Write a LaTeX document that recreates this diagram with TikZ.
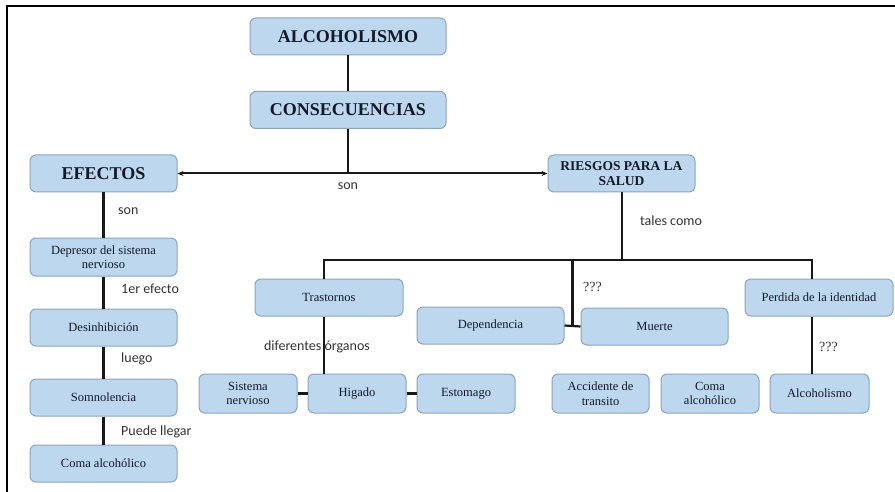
\documentclass[tikz,border=0pt]{standalone}
\usepackage{fontspec}
\setmainfont{Liberation Serif}
\newfontfamily\lblfont{Carlito}
\usepackage{xcolor}
\usetikzlibrary{arrows.meta, positioning, calc}
\definecolor{boxfill}{RGB}{189,215,238}
\definecolor{boxline}{RGB}{140,165,190}
\definecolor{boxtext}{RGB}{20,25,40}

\begin{document}
\begin{tikzpicture}[
        x=1pt, y=-1pt,
        mapbox/.style={rectangle, rounded corners=6pt, draw=boxline, fill=boxfill, line width=1pt, inner sep=0pt, align=center, text=boxtext},
        bigbox/.style={mapbox, minimum width=196pt, minimum height=37pt, font=\fontsize{18}{19}\selectfont\bfseries},
        midbox/.style={mapbox, minimum width=147pt, minimum height=37pt, font=\fontsize{12.5}{14.5}\selectfont},
        smallbox/.style={mapbox, minimum width=98pt, minimum height=39pt, font=\fontsize{12.5}{14.5}\selectfont},
        linkstyle/.style={line width=2.2pt, color=black!90},
        arrowstyle/.style={-{Stealth[length=6pt, width=5pt]}, line width=2pt, color=black!90},
        lbl/.style={font=\lblfont\fontsize{14}{16}\selectfont, text=black!80, inner sep=1pt},
        qlbl/.style={font=\fontsize{14}{16}\selectfont, text=black!80, inner sep=1pt}
    ]
        \useasboundingbox (0,0) rectangle (895,492);
        % Frame
        \draw[line width=2.2pt] (7,492) -- (7,6) -- (895,6);

        % Top
        \node[bigbox] (alc) at (348, 36.5) {ALCOHOLISMO};
        \node[bigbox] (cons) at (348, 110) {CONSECUENCIAS};
        \node[bigbox, minimum width=147pt] (efec) at (103.5, 173.5) {EFECTOS};
        \node[midbox, font=\fontsize{13.5}{15.5}\selectfont\bfseries] (ries) at (621.5, 173.5) {RIESGOS PARA LA\\SALUD};

        % Left column
        \node[midbox, minimum height=38pt] (depr) at (103.5, 257) {Depresor del sistema\\nervioso};
        \node[midbox] (desi) at (103.5, 327.5) {Desinhibición};
        \node[midbox] (somn) at (103.5, 397.5) {Somnolencia};
        \node[midbox] (comaA) at (103.5, 463.5) {Coma alcohólico};

        % Risks
        \node[midbox, minimum width=148pt] (tras) at (329, 297.5) {Trastornos};
        \node[midbox] (depen) at (490.5, 325.5) {Dependencia};
        \node[midbox] (muer) at (654.5, 326.5) {Muerte};
        \node[midbox, minimum width=148pt] (perd) at (819, 297.5) {Perdida de la identidad};

        % Bottom row
        \node[smallbox] (sist) at (248, 393.5) {Sistema\\nervioso};
        \node[smallbox] (hig) at (357, 393.5) {Higado};
        \node[smallbox] (esto) at (466, 393.5) {Estomago};
        \node[smallbox, minimum width=97pt] (acc) at (600.5, 393.5) {Accidente de\\transito};
        \node[smallbox] (comaB) at (710, 393.5) {Coma\\alcohólico};
        \node[smallbox, minimum width=99pt] (alcb) at (819.5, 393.5) {Alcoholismo};

        % Main flow
        \draw[linkstyle] (alc) -- (cons);
        \coordinate (split) at (348, 173.5);
        \draw[linkstyle] (cons.south) -- (split);
        \draw[arrowstyle] (split) -- (efec.east);
        \draw[arrowstyle] (split) -- (ries.west);
        \node[lbl] (sonA) at (348, 186) {son};

        % Effects chain
        \draw[linkstyle] (efec) -- (depr);
        \draw[linkstyle] (depr) -- (desi);
        \draw[linkstyle] (desi) -- (somn);
        \draw[linkstyle] (somn) -- (comaA);
        \node[lbl, anchor=west] (sonB) at (117, 211) {son};
        \node[lbl, anchor=west] (primer) at (120, 289) {1er efecto};
        \node[lbl, anchor=west] (luego) at (120, 359) {luego};
        \node[lbl, anchor=west] (puede) at (120, 432) {Puede llegar};

        % Risks tree
        \coordinate (bus) at (622, 260);
        \coordinate (busL) at (324, 260);
        \coordinate (busR) at (812, 260);
        \draw[linkstyle] (ries.south -| bus) -- (bus);
        \draw[linkstyle] (busL |- tras.north) -- (busL) -- (busR) -- (busR |- perd.north);
        \node[lbl, anchor=west] (tales) at (639, 221) {tales como};

        \coordinate (mid) at ($(depen.east)!0.5!(muer.west)$);
        \draw[linkstyle] (depen.east) -- (muer.west);
        \draw[linkstyle] (mid |- bus) -- (mid);
        \node[qlbl, anchor=west] (qA) at (582, 287) {???};

        \draw[linkstyle] (busL |- tras.south) -- (busL |- hig.north);
        \draw[linkstyle] (sist) -- (hig);
        \draw[linkstyle] (hig) -- (esto);
        \node[lbl] (organos) at (317, 347) {diferentes órganos};

        \draw[linkstyle] (busR |- perd.south) -- (busR |- alcb.north);
        \node[qlbl, anchor=west] (qB) at (818, 347) {???};
    \end{tikzpicture}
\end{document}
